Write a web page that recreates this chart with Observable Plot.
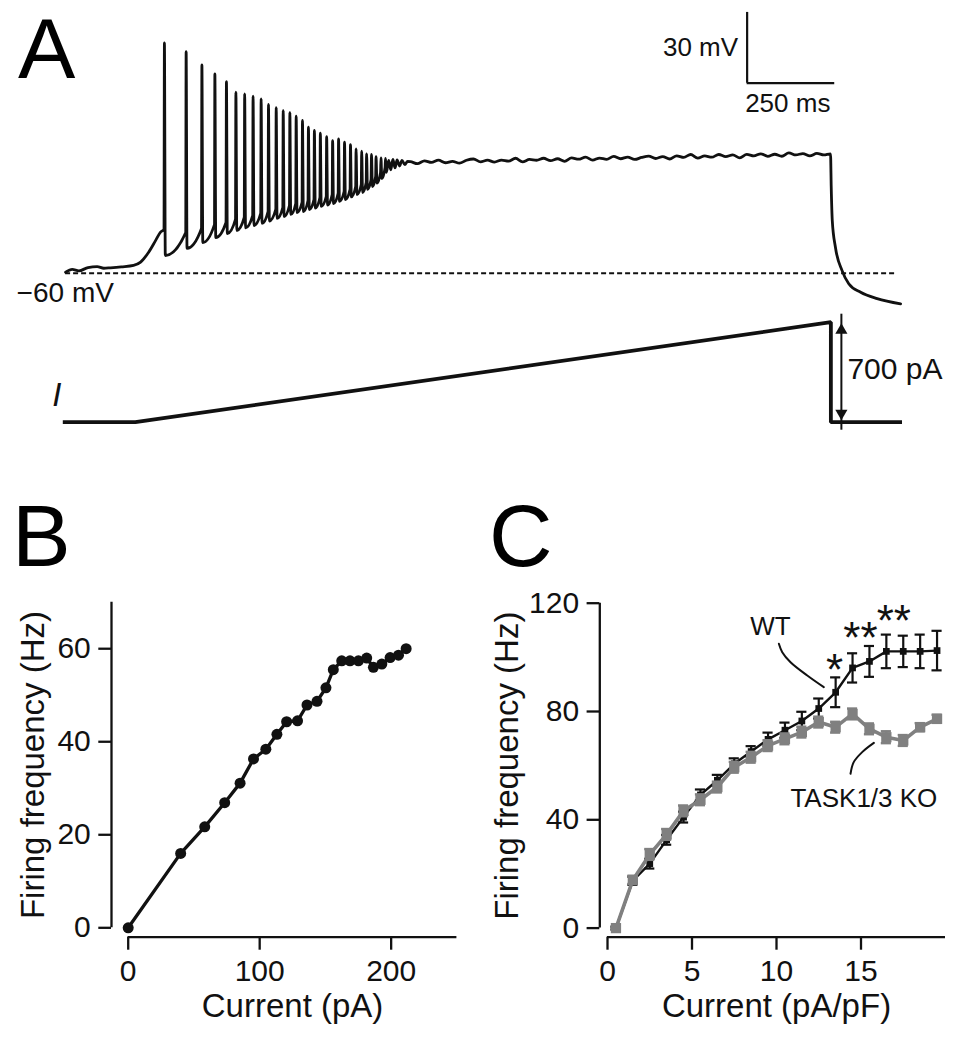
<!DOCTYPE html>
<html><head><meta charset="utf-8">
<script src="https://cdn.jsdelivr.net/npm/d3@7"></script>
<script src="https://cdn.jsdelivr.net/npm/@observablehq/plot@0.6"></script>
<style>
html,body{margin:0;padding:0;background:#fff;}
#fig{position:relative;width:959px;height:1050px;font-family:"Liberation Sans",Arial,sans-serif;overflow:hidden;}
#fig svg{position:absolute;left:0;top:0;}
.letter{position:absolute;font-size:88px;line-height:70px;color:#000;}
</style></head><body>
<div id="fig">
<div class="letter" style="left:18px;top:13.2px;font-size:86px">A</div>
<div class="letter" style="left:12px;top:500.5px">B</div>
<div class="letter" style="left:489px;top:501px">C</div>
</div>
<script>
// ---------- Panel A: membrane potential (ms, mV) ----------
const preT = [6, 25, 44, 70, 96, 115, 134, 165, 200, 220, 243, 263, 277];
const preV = [-59.6, -58.4, -59.0, -57.6, -57.2, -57.9, -57.7, -57.3, -56.7, -55.3, -51.1, -46.1, -42.6];
const spikeT = [288,350,395,432,465,492,517,541,564,585,607,627,646,664,682,699,716,733,751,768,785,802,819,835,851,865,879,892,906,919];
const spikePeak = [37.6,33.9,28.3,24.5,21.2,16.7,16.0,15.0,13.9,11.5,10.1,8.9,8.0,6.5,4.7,1.9,0.5,-0.7,-2.1,-3.8,-3.1,-4.5,-5.5,-7.3,-8.3,-9.4,-9.7,-10.6,-11.1,-11.4];
const spikeThreshold = [-41.5,-42.8,-41.1,-39.4,-38.5,-37.2,-36.4,-35.6,-34.7,-33.9,-33.0,-32.2,-31.3,-30.5,-30.0,-29.2,-28.8,-27.9,-27.5,-26.7,-26.2,-25.4,-24.5,-23.3,-22.4,-21.6,-20.3,-19.0,-17.3,-15.2];
const spikeTrough = [-52.5,-49.5,-47.0,-44.9,-43.2,-41.9,-40.8,-39.8,-38.9,-37.9,-36.8,-36.0,-35.1,-34.3,-33.9,-33.0,-32.4,-31.7,-31.1,-30.5,-29.6,-28.8,-27.7,-26.7,-25.8,-24.5,-23.3,-21.8,-19.9,-17.3];
const tailT = [928, 934, 940, 946, 952, 959, 966, 974, 982];
const tailV = [-12.2, -16.2, -11.8, -15.4, -12.0, -14.6, -12.2, -14.0, -12.6];
const plateauT = [990,1010,1030,1050,1070,1090,1110,1130,1150,1170,1190,1210,1230,1250,1270,1290,1310,1330,1350,1370,1390,1410,1430,1450,1470,1490,1510,1530,1550,1570,1590,1610,1630,1650,1670,1690,1710,1730,1750,1770,1790,1810,1830,1850,1870,1890,1910,1930,1950,1970,1990,2010,2030,2050,2070,2090,2110,2130,2150,2170,2189];
const plateauV = [-12.7,-13.6,-12.4,-13.05,-12.1,-13.2,-12.6,-13.4,-12.15,-11.6,-12.8,-12.1,-12.9,-12.05,-12.5,-11.3,-12.8,-11.8,-12.15,-11.3,-12.3,-11.5,-12.6,-11.15,-11.7,-10.8,-12.1,-11.2,-11.75,-10.5,-11.5,-10.8,-11.8,-10.95,-10.4,-11.4,-10.6,-11.6,-10.25,-10.9,-9.7,-11.2,-10.3,-10.85,-9.7,-10.6,-9.9,-11.1,-9.65,-10.3,-9.4,-10.5,-9.6,-10.45,-9.0,-9.9,-9.3,-10.3,-9.25,-9.9,-9.4];
const decayT = [2191, 2194, 2203, 2222, 2241, 2275, 2322, 2389];
const decayV = [-23.6, -37.7, -49.0, -58.9, -64.5, -68.1, -70.8, -73.0];
const restLevel = -60, restFrom = 6, restTo = 2379;
const scaleBarT = 1951, scaleBarV = 20.5, scaleBarMs = 250, scaleBarMv = 30;
const scaleLabels = ["30 mV", "250 ms"];
const restLabel = "\u221260 mV";

// ---------- Panel A: injected current (ms, pA) ----------
const rampT = [-2, 205, 2190, 2190, 2393];
const rampI = [0, 0, 700, 0, 0];
const rampAmp = 700, arrowT = 2220;
const currentLabels = ["I", "700 pA"];

// ---------- Panel B ----------
const bCurrent = [0, 39.9, 58.2, 73.4, 85.1, 95.3, 104.7, 113.1, 120.5, 128.8, 136.0, 143.6, 150.4, 156.0, 162.4, 168.7, 175.1, 181.4, 186.5, 192.9, 199.2, 205.6, 211.4];
const bFreq = [0, 16.0, 21.7, 26.9, 31.1, 36.3, 38.4, 41.6, 44.3, 44.5, 47.9, 48.7, 51.6, 55.5, 57.4, 57.4, 57.4, 58.0, 56.0, 56.7, 58.1, 58.6, 60.0];
const bXTicks = [0, 100, 200], bYTicks = [0, 20, 40, 60];
const bXExtent = [0, 250], bYExtent = [0, 70];
const bXTitle = "Current (pA)", yTitle = "Firing frequency (Hz)";

// ---------- Panel C ----------
const cCurrent = [0.5,1.5,2.5,3.5,4.5,5.5,6.5,7.5,8.5,9.5,10.5,11.5,12.5,13.5,14.5,15.5,16.5,17.5,18.5,19.5];
const wtFreq = [0, 17.5, 23.8, 32.6, 41.0, 49.2, 54.6, 60.7, 65.2, 69.7, 73.1, 76.5, 81.1, 87.1, 96.1, 98.5, 102.2, 102.2, 102.2, 102.5];
const wtSem  = [0.5, 1.5, 1.8, 1.8, 2.0, 2.0, 2.0, 2.0, 2.0, 2.5, 2.8, 3.4, 3.7, 5.5, 5.4, 5.7, 6.2, 5.8, 6.2, 7.3];
const koFreq = [0, 17.8, 27.2, 34.6, 43.3, 47.4, 52.1, 59.4, 63.1, 67.4, 69.9, 72.4, 76.1, 74.2, 79.1, 73.6, 70.5, 69.3, 74.2, 77.3];
const koSem  = [0.5, 1.5, 2.0, 2.0, 2.0, 2.0, 2.0, 2.0, 2.0, 2.0, 2.0, 2.0, 2.0, 2.0, 2.0, 2.0, 2.2, 2.0, 1.5, 1.5];
const cXTicks = [0, 5, 10, 15], cYTicks = [0, 40, 80, 120];
const cXExtent = [0, 20], cYExtent = [0, 120];
const cXTitle = "Current (pA/pF)";
const groupNames = ["WT", "TASK1/3 KO"];
const stars = [{x: 13.43, y: 99.2, s: "*"}, {x: 14.97, y: 110.7, s: "**"}, {x: 16.94, y: 117.3, s: "**"}];
const wtLeaderX = [10.14, 10.34, 10.83, 11.82, 12.80];
const wtLeaderY = [105.0, 101.9, 98.2, 93.3, 89.0];
const koLeaderX = [15.76, 15.07, 14.57, 14.38];
const koLeaderY = [68.4, 65.0, 61.3, 57.0];
const wtLabelPos = {x: 9.64, y: 108.1}, koLabelPos = {x: 15.17, y: 44.7};

// ---------- build ----------
const FONT = '"Liberation Sans", Arial, sans-serif';
const baseStyle = {fontFamily: FONT, fontSize: "30px", color: "#000", background: "transparent", overflow: "visible"};
const fig = document.getElementById("fig");
const INK = "#111";
const GRAY = "#808080";

const vTrace = [];
preT.forEach((t, i) => vTrace.push({t, v: preV[i]}));
spikeT.forEach((t, i) => {
  vTrace.push({t: t - 1.2, v: spikeThreshold[i]});
  vTrace.push({t, v: spikePeak[i]});
  vTrace.push({t: t + 2.5, v: spikeTrough[i]});
});
tailT.forEach((t, i) => vTrace.push({t, v: tailV[i]}));
plateauT.forEach((t, i) => vTrace.push({t, v: plateauV[i]}));
decayT.forEach((t, i) => vTrace.push({t, v: decayV[i]}));

const msPerPx = 250 / 87.6;
const plotA = Plot.plot({
  width: 959, height: 1050, margin: 0,
  style: baseStyle,
  x: {domain: [0, 896 * msPerPx], range: [63, 959], axis: null},
  y: {domain: [-60, 50], range: [272.7, 13.1], axis: null},
  marks: [
    Plot.ruleY([restLevel], {x1: restFrom, x2: restTo, stroke: INK, strokeWidth: 2, strokeDasharray: "5,3"}),
    Plot.line(vTrace, {x: "t", y: "v", curve: "monotone-x", stroke: INK, strokeWidth: 2.8}),
    Plot.ruleX([scaleBarT], {y1: scaleBarV, y2: scaleBarV + scaleBarMv, stroke: INK, strokeWidth: 2.2}),
    Plot.ruleY([scaleBarV], {x1: scaleBarT, x2: scaleBarT + scaleBarMs, stroke: INK, strokeWidth: 2.2}),
    Plot.text([scaleLabels[0]], {x: scaleBarT, y: scaleBarV + scaleBarMv / 2, text: d => d, textAnchor: "end", lineAnchor: "middle", dx: -9, fontSize: 26, fill: INK}),
    Plot.text([scaleLabels[1]], {x: scaleBarT, y: scaleBarV, text: d => d, textAnchor: "start", lineAnchor: "bottom", dx: -2, dy: 29, fontSize: 26, fill: INK}),
    Plot.text([restLabel], {x: restFrom, y: restLevel, text: d => d, textAnchor: "start", lineAnchor: "bottom", dx: -49, dy: 29, fontSize: 28, fill: INK})
  ]
});
fig.appendChild(plotA);

const rampData = rampT.map((t, i) => ({t, i: rampI[i]}));
const plotI = Plot.plot({
  width: 959, height: 1050, margin: 0,
  style: baseStyle,
  x: {domain: [0, 896 * msPerPx], range: [63, 959], axis: null},
  y: {domain: [0, 700], range: [421.7, 321.7], axis: null},
  marks: [
    Plot.line(rampData, {x: "t", y: "i", stroke: INK, strokeWidth: 3.8, strokeLinejoin: "miter", strokeLinecap: "butt"}),
    Plot.ruleX([arrowT], {y1: 0, y2: rampAmp, stroke: INK, strokeWidth: 2, insetTop: 8, insetBottom: 8}),
    Plot.dot([arrowT], {x: d => d, y: rampAmp, symbol: "triangle", r: 4.5, fill: INK, stroke: null, dy: 8}),
    Plot.dot([arrowT], {x: d => d, y: 0, symbol: "triangle", rotate: 180, r: 4.5, fill: INK, stroke: null, dy: -9}),
    Plot.text([currentLabels[1]], {x: arrowT, y: rampAmp / 2, text: d => d, textAnchor: "start", lineAnchor: "middle", dx: 6, dy: -3, fontSize: 30, fill: INK}),
    Plot.text([currentLabels[0]], {x: rampT[0], y: 0, text: d => d, lineAnchor: "bottom", dx: -6, dy: -16.7, fontSize: 33, fontStyle: "italic", fill: INK})
  ]
});
fig.appendChild(plotI);

// Panel B
const bData = bCurrent.map((x, i) => ({x, y: bFreq[i]}));
const bXLow = -12.7, bYLow = -2.02;
const plotB = Plot.plot({
  width: 959, height: 1050,
  marginLeft: 111, marginRight: 502.6, marginTop: 601.7, marginBottom: 113.3,
  style: baseStyle,
  x: {domain: [bXLow, bXExtent[1]]},
  y: {domain: [bYLow, bYExtent[1]]},
  marks: [
    Plot.ruleY([bYLow], {x1: bXExtent[0], x2: bXExtent[1], stroke: INK, strokeWidth: 2.3}),
    Plot.ruleX([bXLow], {y1: bYExtent[0], y2: bYExtent[1], stroke: INK, strokeWidth: 2.3}),
    Plot.axisX(bXTicks, {tickSize: 13, tickPadding: 9, fontSize: 30, strokeWidth: 2.3, stroke: INK, fill: INK, label: null}),
    Plot.axisY(bYTicks, {tickSize: 12.7, tickPadding: 8, fontSize: 30, strokeWidth: 2.3, stroke: INK, fill: INK, label: null}),
    Plot.text([bXTitle], {x: (bXExtent[0] + bXExtent[1]) / 2, y: bYLow, text: d => d, lineAnchor: "bottom", dy: 80, fontSize: 33, fill: INK}),
    Plot.text([yTitle], {x: bXLow, y: (bYExtent[0] + bYExtent[1]) / 2, text: d => d, rotate: -90, lineAnchor: "bottom", dx: -67.7, fontSize: 33, fill: INK}),
    Plot.line(bData, {x: "x", y: "y", stroke: INK, strokeWidth: 3.3}),
    Plot.dot(bData, {x: "x", y: "y", r: 5.5, fill: INK, stroke: null})
  ]
});
fig.appendChild(plotB);

// Panel C
const wt = cCurrent.map((x, i) => ({x, y: wtFreq[i], lo: wtFreq[i] - wtSem[i], hi: wtFreq[i] + wtSem[i]}));
const ko = cCurrent.map((x, i) => ({x, y: koFreq[i], lo: koFreq[i] - koSem[i], hi: koFreq[i] + koSem[i]}));
const capHalf = 0.3;
const wtLeader = wtLeaderX.map((x, i) => ({x, y: wtLeaderY[i]}));
const koLeader = koLeaderX.map((x, i) => ({x, y: koLeaderY[i]}));
const cXLow = -0.456, cYLow = -3.36;
function errorMarks(data, color, w) {
  return [
    Plot.ruleX(data, {x: "x", y1: "lo", y2: "hi", stroke: color, strokeWidth: w}),
    Plot.ruleY(data, {y: "hi", x1: d => d.x - capHalf, x2: d => d.x + capHalf, stroke: color, strokeWidth: w}),
    Plot.ruleY(data, {y: "lo", x1: d => d.x - capHalf, x2: d => d.x + capHalf, stroke: color, strokeWidth: w})
  ];
}
const plotC = Plot.plot({
  width: 959, height: 1050,
  marginLeft: 599.3, marginRight: 14, marginTop: 602.7, marginBottom: 113.3,
  style: baseStyle,
  x: {domain: [cXLow, cXExtent[1]]},
  y: {domain: [cYLow, cYExtent[1]]},
  marks: [
    Plot.ruleY([cYLow], {x1: cXExtent[0], x2: cXExtent[1], stroke: INK, strokeWidth: 2.3}),
    Plot.ruleX([cXLow], {y1: cYExtent[0], y2: cYExtent[1], stroke: INK, strokeWidth: 2.3}),
    Plot.axisX(cXTicks, {tickSize: 13, tickPadding: 9, fontSize: 30, strokeWidth: 2.3, stroke: INK, fill: INK, label: null}),
    Plot.axisY(cYTicks, {tickSize: 12.7, tickPadding: 8, fontSize: 30, strokeWidth: 2.3, stroke: INK, fill: INK, label: null}),
    Plot.text([cXTitle], {x: (cXExtent[0] + cXExtent[1]) / 2, y: cYLow, text: d => d, lineAnchor: "bottom", dy: 80, fontSize: 33, fill: INK}),
    Plot.text([yTitle], {x: cXLow, y: (cYExtent[0] + cYExtent[1]) / 2, text: d => d, rotate: -90, lineAnchor: "bottom", dx: -82.3, fontSize: 33, fill: INK}),
    ...errorMarks(wt, INK, 2.2),
    Plot.line(wt, {x: "x", y: "y", stroke: INK, strokeWidth: 2.4}),
    Plot.dot(wt, {x: "x", y: "y", symbol: "square", r: 3.8, fill: INK, stroke: null}),
    ...errorMarks(ko, GRAY, 2.4),
    Plot.line(ko, {x: "x", y: "y", stroke: GRAY, strokeWidth: 3.6}),
    Plot.dot(ko, {x: "x", y: "y", symbol: "square", r: 5.8, fill: GRAY, stroke: null}),
    Plot.line(wtLeader, {x: "x", y: "y", curve: "catmull-rom", stroke: INK, strokeWidth: 2}),
    Plot.line(koLeader, {x: "x", y: "y", curve: "catmull-rom", stroke: INK, strokeWidth: 2}),
    Plot.text([groupNames[0]], {x: wtLabelPos.x, y: wtLabelPos.y, text: d => d, lineAnchor: "bottom", fontSize: 26, fill: INK}),
    Plot.text([groupNames[1]], {x: koLabelPos.x, y: koLabelPos.y, text: d => d, lineAnchor: "bottom", fontSize: 26, fill: INK}),
    Plot.text(stars, {x: "x", y: "y", text: "s", lineAnchor: "bottom", dy: 25, fontSize: 44, fill: INK})
  ]
});
fig.appendChild(plotC);
</script>
</body></html>
